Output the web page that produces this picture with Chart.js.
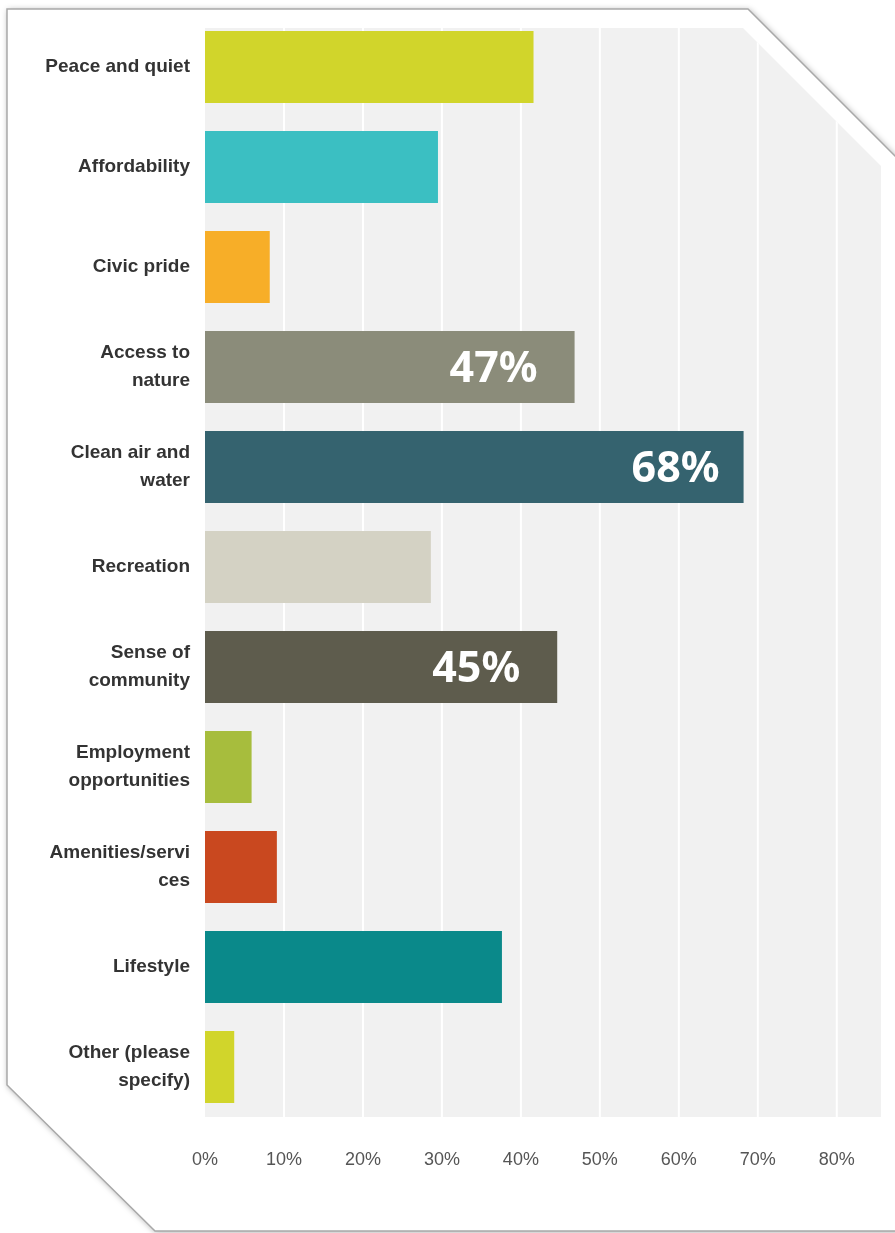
<!DOCTYPE html>
<html>
<head>
<meta charset="utf-8">
<script src="https://cdn.jsdelivr.net/npm/chart.js@4"></script>
<style>
  html, body { margin: 0; padding: 0; background: #fff; }
  #wrap { width: 895px; height: 1233px; }
</style>
</head>
<body>
<div id="wrap"><canvas id="c" width="895" height="1233"></canvas></div>
<script>
// Categories (multi-line labels as in the survey chart)
const reasons = [
  'Peace and quiet',
  'Affordability',
  'Civic pride',
  ['Access to', 'nature'],
  ['Clean air and', 'water'],
  'Recreation',
  ['Sense of', 'community'],
  ['Employment', 'opportunities'],
  ['Amenities/servi', 'ces'],
  'Lifestyle',
  ['Other (please', 'specify)']
];
// Share of respondents, percent
const shares = [41.6, 29.5, 8.2, 46.8, 68.2, 28.6, 44.6, 5.9, 9.1, 37.6, 3.7];
const barColors = [
  '#d1d52b', '#3bbfc2', '#f7ae28', '#8b8c7a', '#35636f', '#d4d2c4',
  '#5e5c4d', '#a7bd3d', '#c9481f', '#0a898a', '#d1d52b'
];
// Big callouts written inside a few bars
const callouts = [null, null, null, '47%', '68%', null, '45%', null, null, null, null];
const xTicks = [0, 10, 20, 30, 40, 50, 60, 70, 80];

const narrow = "'Liberation Sans Narrow', 'Liberation Sans', Arial, sans-serif";

function plotShape(ctx, a) {
  const top = a.top + 11;
  ctx.beginPath();
  ctx.moveTo(a.left, top);
  ctx.lineTo(743, top);
  ctx.lineTo(a.right, top + (a.right - 743));
  ctx.lineTo(a.right, a.bottom);
  ctx.lineTo(a.left, a.bottom);
  ctx.closePath();
}

// white frame with clipped corners + grey plot background + clipped grid
const framePlugin = {
  id: 'frame',
  beforeDraw(chart) {
    const ctx = chart.ctx;
    ctx.save();
    ctx.beginPath();
    ctx.moveTo(7, 9);
    ctx.lineTo(748, 9);
    ctx.lineTo(900, 161);
    ctx.lineTo(900, 1231);
    ctx.lineTo(155, 1231);
    ctx.lineTo(7, 1085);
    ctx.closePath();
    ctx.shadowColor = 'rgba(0,0,0,0.35)';
    ctx.shadowBlur = 6;
    ctx.shadowOffsetX = 1;
    ctx.shadowOffsetY = 1;
    ctx.fillStyle = '#ffffff';
    ctx.fill();
    ctx.shadowColor = 'transparent';
    ctx.strokeStyle = '#a9a9a9';
    ctx.lineWidth = 1.5;
    ctx.stroke();

    plotShape(ctx, chart.chartArea);
    ctx.fillStyle = '#f1f1f1';
    ctx.fill();
    ctx.restore();
  },
  beforeDatasetsDraw(chart) {
    const ctx = chart.ctx;
    const a = chart.chartArea;
    const x = chart.scales.x;
    ctx.save();
    plotShape(ctx, a);
    ctx.clip();
    ctx.strokeStyle = '#ffffff';
    ctx.lineWidth = 2;
    xTicks.forEach(v => {
      if (v === 0) return;
      const px = x.getPixelForValue(v);
      ctx.beginPath();
      ctx.moveTo(px, a.top);
      ctx.lineTo(px, a.bottom);
      ctx.stroke();
    });
    ctx.restore();
  }
};

const calloutPlugin = {
  id: 'callouts',
  afterDatasetsDraw(chart) {
    const ctx = chart.ctx;
    const meta = chart.getDatasetMeta(0);
    const gaps = { 3: 37, 4: 24, 6: 37 };
    ctx.save();
    ctx.font = "bold 43px 'Noto Sans', 'Open Sans', sans-serif";
    ctx.fillStyle = '#ffffff';
    ctx.textAlign = 'right';
    ctx.textBaseline = 'middle';
    meta.data.forEach((bar, i) => {
      if (!callouts[i]) return;
      ctx.fillText(callouts[i], bar.x - (gaps[i] || 30), bar.y + 3);
    });
    ctx.restore();
  }
};

new Chart(document.getElementById('c'), {
  type: 'bar',
  data: {
    labels: reasons,
    datasets: [{
      data: shares,
      backgroundColor: barColors,
      borderWidth: 0,
      categoryPercentage: 0.72,
      barPercentage: 1
    }]
  },
  options: {
    indexAxis: 'y',
    responsive: false,
    animation: false,
    devicePixelRatio: 1,
    layout: { padding: { top: 17, right: 14, bottom: 0, left: 0 } },
    plugins: {
      legend: { display: false },
      tooltip: { enabled: false }
    },
    scales: {
      x: {
        min: 0,
        max: 85.6,
        afterFit: s => { s.height = 116; s.paddingLeft = 0; s.paddingRight = 0; },
        afterBuildTicks: s => { s.ticks = xTicks.map(v => ({ value: v })); },
        grid: { display: false },
        border: { display: false },
        ticks: {
          padding: 24,
          color: '#555555',
          font: { family: narrow, size: 18 },
          callback: v => v + '%'
        }
      },
      y: {
        afterFit: s => { s.width = 205; s.paddingTop = 0; s.paddingBottom = 0; },
        grid: { display: false },
        border: { display: false },
        ticks: {
          padding: 7,
          color: '#333333',
          font: { family: narrow, size: 19, weight: 'bold', lineHeight: 1.5 }
        }
      }
    }
  },
  plugins: [framePlugin, calloutPlugin]
});
</script>
</body>
</html>
